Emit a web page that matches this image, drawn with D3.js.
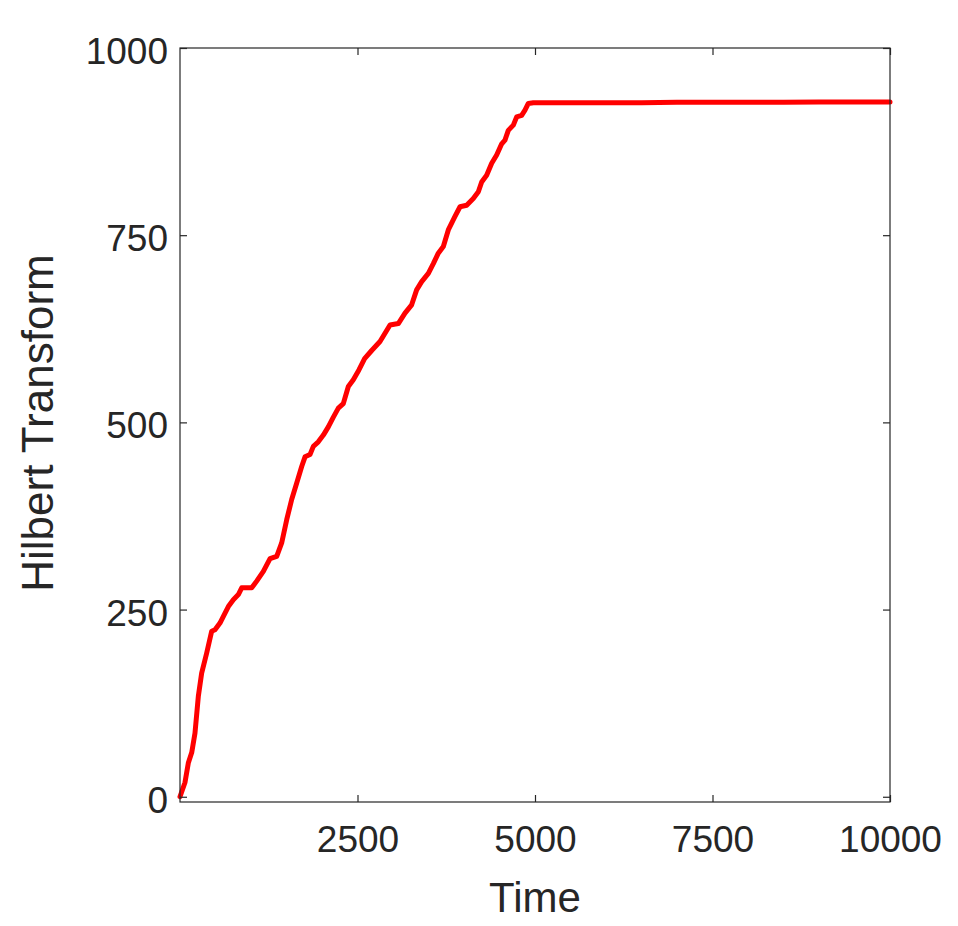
<!DOCTYPE html>
<html>
<head>
<meta charset="utf-8">
<script src="https://cdn.jsdelivr.net/npm/d3@7"></script>
<style>
  body { margin: 0; background: #fff; }
  svg { display: block; }
</style>
</head>
<body>
<div id="chart"></div>
<script>
// Datos
var timeValues = [0, 70, 117, 165, 211, 258, 305, 376, 446, 493, 563, 611, 681, 751, 822, 869,
  1010, 1080, 1174, 1268, 1362, 1432, 1503, 1573, 1644, 1714, 1761, 1831, 1878, 1948, 2019,
  2089, 2160, 2230, 2300, 2371, 2441, 2520, 2600, 2700, 2817, 2958, 3075, 3169, 3263, 3333,
  3404, 3498, 3568, 3638, 3709, 3779, 3873, 3944, 4038, 4131, 4202, 4249, 4319, 4390, 4460,
  4531, 4577, 4624, 4695, 4742, 4812, 4859, 4906, 4977, 5500, 6000, 6500, 7000, 7500, 8000,
  8500, 9000, 9500, 10000];
var hilbertValues = [0, 19, 45, 59, 85, 134, 165, 192, 221, 223, 232, 241, 254, 263, 270, 279,
  279, 288, 301, 318, 321, 339, 370, 397, 419, 441, 454, 457, 468, 474, 483,
  494, 507, 519, 525, 548, 557, 570, 585, 596, 608, 630, 632, 646, 657, 677,
  688, 699, 712, 726, 735, 757, 775, 788, 790, 799, 808, 821, 830, 846, 857,
  872, 877, 890, 897, 908, 910, 917, 926, 927, 927, 927, 927, 927.5, 927.5, 927.5,
  927.5, 928, 928, 928];
var xTicks = [2500, 5000, 7500, 10000];
var yTicks = [0, 250, 500, 750, 1000];

var W = 958, H = 926;
var box = {left: 180, right: 890, top: 48, bottom: 802};
var ink = '#262626';
var font = '"Liberation Sans", Arial, Helvetica, sans-serif';

var svg = d3.select('#chart').append('svg')
  .attr('width', W)
  .attr('height', H);

var x = d3.scaleLinear().domain([0, 10000]).range([box.left, box.right]);
var y = d3.scaleLinear().domain([-7, 1000]).range([box.bottom, box.top]);

var data = timeValues.map(function(t, i) { return {t: t, v: hilbertValues[i]}; });

// Linea
svg.append('path')
  .datum(data)
  .attr('fill', 'none')
  .attr('stroke', '#ff0000')
  .attr('stroke-width', 5)
  .attr('stroke-linejoin', 'round')
  .attr('stroke-linecap', 'round')
  .attr('d', d3.line()
    .x(function(d) { return x(d.t); })
    .y(function(d) { return y(d.v); }));

// Ejes (ticks hacia dentro, caja completa)
function styleAxis(g, showText) {
  g.select('.domain').remove();
  g.selectAll('.tick line').attr('stroke', ink).attr('stroke-width', 1.2);
  g.selectAll('.tick text')
    .attr('fill', ink)
    .style('font-family', font)
    .style('font-size', '37px');
  if (!showText) g.selectAll('.tick text').remove();
}

svg.append('g')
  .attr('transform', 'translate(0,' + box.bottom + ')')
  .call(d3.axisBottom(x).tickValues(xTicks).tickSizeInner(-7).tickSizeOuter(0).tickPadding(24).tickFormat(d3.format('d')))
  .call(styleAxis, true);

svg.append('g')
  .attr('transform', 'translate(0,' + box.top + ')')
  .call(d3.axisTop(x).tickValues(xTicks).tickSizeInner(-7).tickSizeOuter(0))
  .call(styleAxis, false);

var yAxisG = svg.append('g')
  .attr('transform', 'translate(' + box.left + ',0)')
  .call(d3.axisLeft(y).tickValues(yTicks).tickSizeInner(-7).tickSizeOuter(0).tickPadding(12).tickFormat(d3.format('d')))
  .call(styleAxis, true);
yAxisG.selectAll('.tick text').attr('dy', '0.42em');

svg.append('g')
  .attr('transform', 'translate(' + box.right + ',0)')
  .call(d3.axisRight(y).tickValues(yTicks).tickSizeInner(-7).tickSizeOuter(0))
  .call(styleAxis, false);

// Marco
svg.append('rect')
  .attr('x', box.left)
  .attr('y', box.top)
  .attr('width', box.right - box.left)
  .attr('height', box.bottom - box.top)
  .attr('fill', 'none')
  .attr('stroke', ink)
  .attr('stroke-width', 1.2);

// Titulos de ejes
svg.append('text')
  .attr('x', (box.left + box.right) / 2)
  .attr('y', 912)
  .attr('text-anchor', 'middle')
  .attr('fill', ink)
  .style('font-family', font)
  .style('font-size', '42px')
  .text('Time');

svg.append('text')
  .attr('transform', 'translate(53,423) rotate(-90)')
  .attr('text-anchor', 'middle')
  .attr('fill', ink)
  .style('font-family', font)
  .style('font-size', '44px')
  .text('Hilbert Transform');
</script>
</body>
</html>
